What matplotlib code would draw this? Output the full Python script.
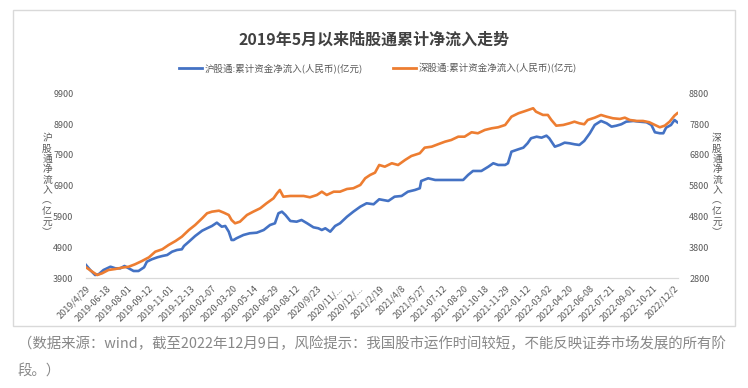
import matplotlib
matplotlib.use("Agg")
import matplotlib.pyplot as plt
from matplotlib.patches import Rectangle
from matplotlib.lines import Line2D

plt.rcParams['font.family'] = ['Noto Sans CJK SC', 'DejaVu Sans']

# trading-day index (0 = 2019-04-29, 845 = 2022-12-09) and cumulative net inflow (亿元)
sh_idx = [0, 6, 13, 18, 25, 35, 42, 49, 55, 61, 68, 75, 83, 87, 94, 102, 109, 116, 123, 130,
          137, 140, 147, 156, 166, 173, 180, 187, 194, 199, 204, 208, 211, 215, 225, 234, 244,
          254, 263, 270, 275, 280, 285, 292, 301, 308, 316, 325, 332, 337, 342, 349, 356, 363,
          373, 382, 392, 401, 411, 419, 432, 441, 451, 460, 470, 477, 479, 489, 499, 508, 518,
          527, 539, 546, 553, 565, 575, 582, 589, 599, 603, 608, 618, 625, 631, 636, 644, 651,
          658, 662, 670, 677, 684, 691, 698, 705, 712, 720, 727, 736, 744, 751, 758, 765, 772,
          782, 791, 801, 808, 813, 820, 825, 829, 836, 841, 845]
sh_val = [4331, 4169, 4007, 4030, 4169, 4276, 4224, 4224, 4299, 4224, 4137, 4137, 4257, 4439,
          4516, 4581, 4623, 4656, 4763, 4818, 4841, 4948, 5087, 5272, 5444, 5522, 5597, 5704,
          5574, 5597, 5412, 5143, 5143, 5198, 5305, 5360, 5379, 5467, 5629, 5684, 6009, 6061,
          5953, 5759, 5736, 5791, 5684, 5554, 5522, 5467, 5522, 5412, 5597, 5684, 5898, 6060,
          6223, 6333, 6301, 6463, 6408, 6547, 6570, 6709, 6764, 6820, 7056, 7144, 7089, 7089,
          7089, 7089, 7089, 7251, 7381, 7381, 7520, 7631, 7576, 7576, 7631, 8007, 8085, 8137,
          8279, 8442, 8493, 8461, 8526, 8442, 8169, 8224, 8299, 8279, 8247, 8224, 8354, 8604,
          8873, 9003, 8928, 8818, 8850, 8896, 8980, 9003, 8980, 8961, 8873, 8636, 8604, 8604,
          8786, 8873, 9035, 8961]

sz_idx = [0, 9, 16, 23, 32, 42, 51, 61, 70, 80, 90, 99, 109, 118, 128, 137, 147, 156, 166, 173,
          180, 190, 197, 204, 208, 213, 220, 230, 239, 249, 258, 268, 273, 277, 282, 292, 301,
          311, 320, 330, 337, 344, 354, 363, 373, 382, 392, 399, 406, 413, 419, 427, 437, 446,
          456, 465, 477, 484, 494, 503, 513, 522, 532, 541, 551, 560, 570, 580, 589, 599, 608,
          618, 627, 639, 643, 653, 660, 665, 672, 682, 691, 698, 705, 712, 717, 727, 736, 744,
          753, 763, 770, 777, 787, 796, 805, 813, 820, 827, 834, 841, 845]
sz_val = [3157, 3014, 2907, 2962, 3069, 3102, 3144, 3176, 3254, 3361, 3481, 3663, 3741, 3880,
          4010, 4150, 4367, 4529, 4746, 4909, 4961, 4993, 4928, 4853, 4691, 4584, 4636, 4853,
          4961, 5071, 5233, 5395, 5557, 5664, 5447, 5470, 5470, 5470, 5428, 5502, 5609, 5502,
          5609, 5609, 5697, 5720, 5827, 6044, 6151, 6226, 6475, 6420, 6531, 6475, 6638, 6767,
          6855, 7037, 7069, 7147, 7231, 7286, 7393, 7393, 7536, 7504, 7611, 7666, 7698, 7773,
          8042, 8153, 8220, 8315, 8205, 8098, 8098, 7935, 7750, 7773, 7828, 7880, 7828, 7796,
          7935, 8010, 8097, 8042, 7990, 7968, 8010, 7935, 7903, 7903, 7861, 7773, 7698, 7750,
          7880, 8075, 8153]

date_labels = ['2019/4/29', '2019-06-18', '2019-08-01', '2019-09-12', '2019-11-01', '2019-12-13',
               '2020-02-07', '2020-03-20', '2020-05-14', '2020-06-29', '2020-08-12', '2020/9/23',
               '2020/11/...', '2020/12/...', '2021/2/19', '2021/4/8', '2021/5/27', '2021-07-12',
               '2021-08-20', '2021-10-18', '2021-11-29', '2022-01-12', '2022-03-02', '2022-04-20',
               '2022-06-08', '2022-07-21', '2022-09-01', '2022-10-21', '2022/12/2']
label_step = 30

left_ticks = [3900, 4900, 5900, 6900, 7900, 8900, 9900]
right_ticks = [2800, 3800, 4800, 5800, 6800, 7800, 8800]

blue = '#4472C4'
orange = '#ED7D31'
gray = '#595959'

fig = plt.figure(figsize=(7.48, 3.88), dpi=100)
ax = fig.add_axes([86 / 748, 1 - 278.3 / 388, 592 / 748, 185 / 388])
ax2 = ax.twinx()

ax.plot(sh_idx, sh_val, color=blue, lw=1.9)
ax2.plot(sz_idx, sz_val, color=orange, lw=1.9)

ax.set_xlim(0, 846)
ax.set_ylim(3900, 9900)
ax2.set_ylim(2800, 8800)
ax.set_yticks(left_ticks)
ax2.set_yticks(right_ticks)
ax.set_xticks([i * label_step for i in range(len(date_labels))])
ax.set_xticklabels(date_labels, rotation=45, ha='right', rotation_mode='anchor')

for a in (ax, ax2):
    for s in ('top', 'left', 'right'):
        a.spines[s].set_visible(False)
    a.spines['bottom'].set_color('#D9D9D9')
    a.tick_params(length=0, labelsize=6.5, labelcolor=gray)
ax.tick_params(axis='x', pad=4)
ax.tick_params(axis='y', pad=9)
ax2.tick_params(axis='y', pad=8)

vl = ['沪', '股', '通', '净', '流', '入', '︵', '亿', '元', '︶']
vr = ['深', '股', '通', '净', '流', '入', '︵', '亿', '元', '︶']
fig.text(47 / 748, 1 - 185 / 388, '\n'.join(vl), ha='center', va='center',
         fontsize=7, color=gray, linespacing=1.05)
fig.text(717 / 748, 1 - 185 / 388, '\n'.join(vr), ha='center', va='center',
         fontsize=7, color=gray, linespacing=1.05)

fig.text(0.5, 1 - 40 / 388, '2019年5月以来陆股通累计净流入走势', ha='center', va='center',
         fontsize=11.5, fontweight='bold', color='#404040')

handles = [Line2D([], [], color=blue, lw=2), Line2D([], [], color=orange, lw=2)]
fig.legend(handles, ['沪股通:累计资金净流入(人民币)(亿元)', '深股通:累计资金净流入(人民币)(亿元)'],
           loc='center', bbox_to_anchor=(0.505, 1 - 68 / 388), ncol=2, frameon=False,
           fontsize=6.8, labelcolor=gray, handlelength=2.4, handletextpad=0.3,
           columnspacing=3.2)

fig.patches.append(Rectangle((13 / 748, 1 - 326 / 388), 722 / 748, 316 / 388,
                             transform=fig.transFigure, fill=False, edgecolor='#D9D9D9', lw=1))

fig.text(18 / 748, 1 - 344 / 388,
         '（数据来源：wind，截至2022年12月9日，风险提示：我国股市运作时间较短，不能反映证券市场发展的所有阶',
         ha='left', va='center', fontsize=10.4, color='#888888')
fig.text(18 / 748, 1 - 372 / 388, '段。）', ha='left', va='center', fontsize=10.4, color='#888888')

fig.savefig('out.png', dpi=100)
